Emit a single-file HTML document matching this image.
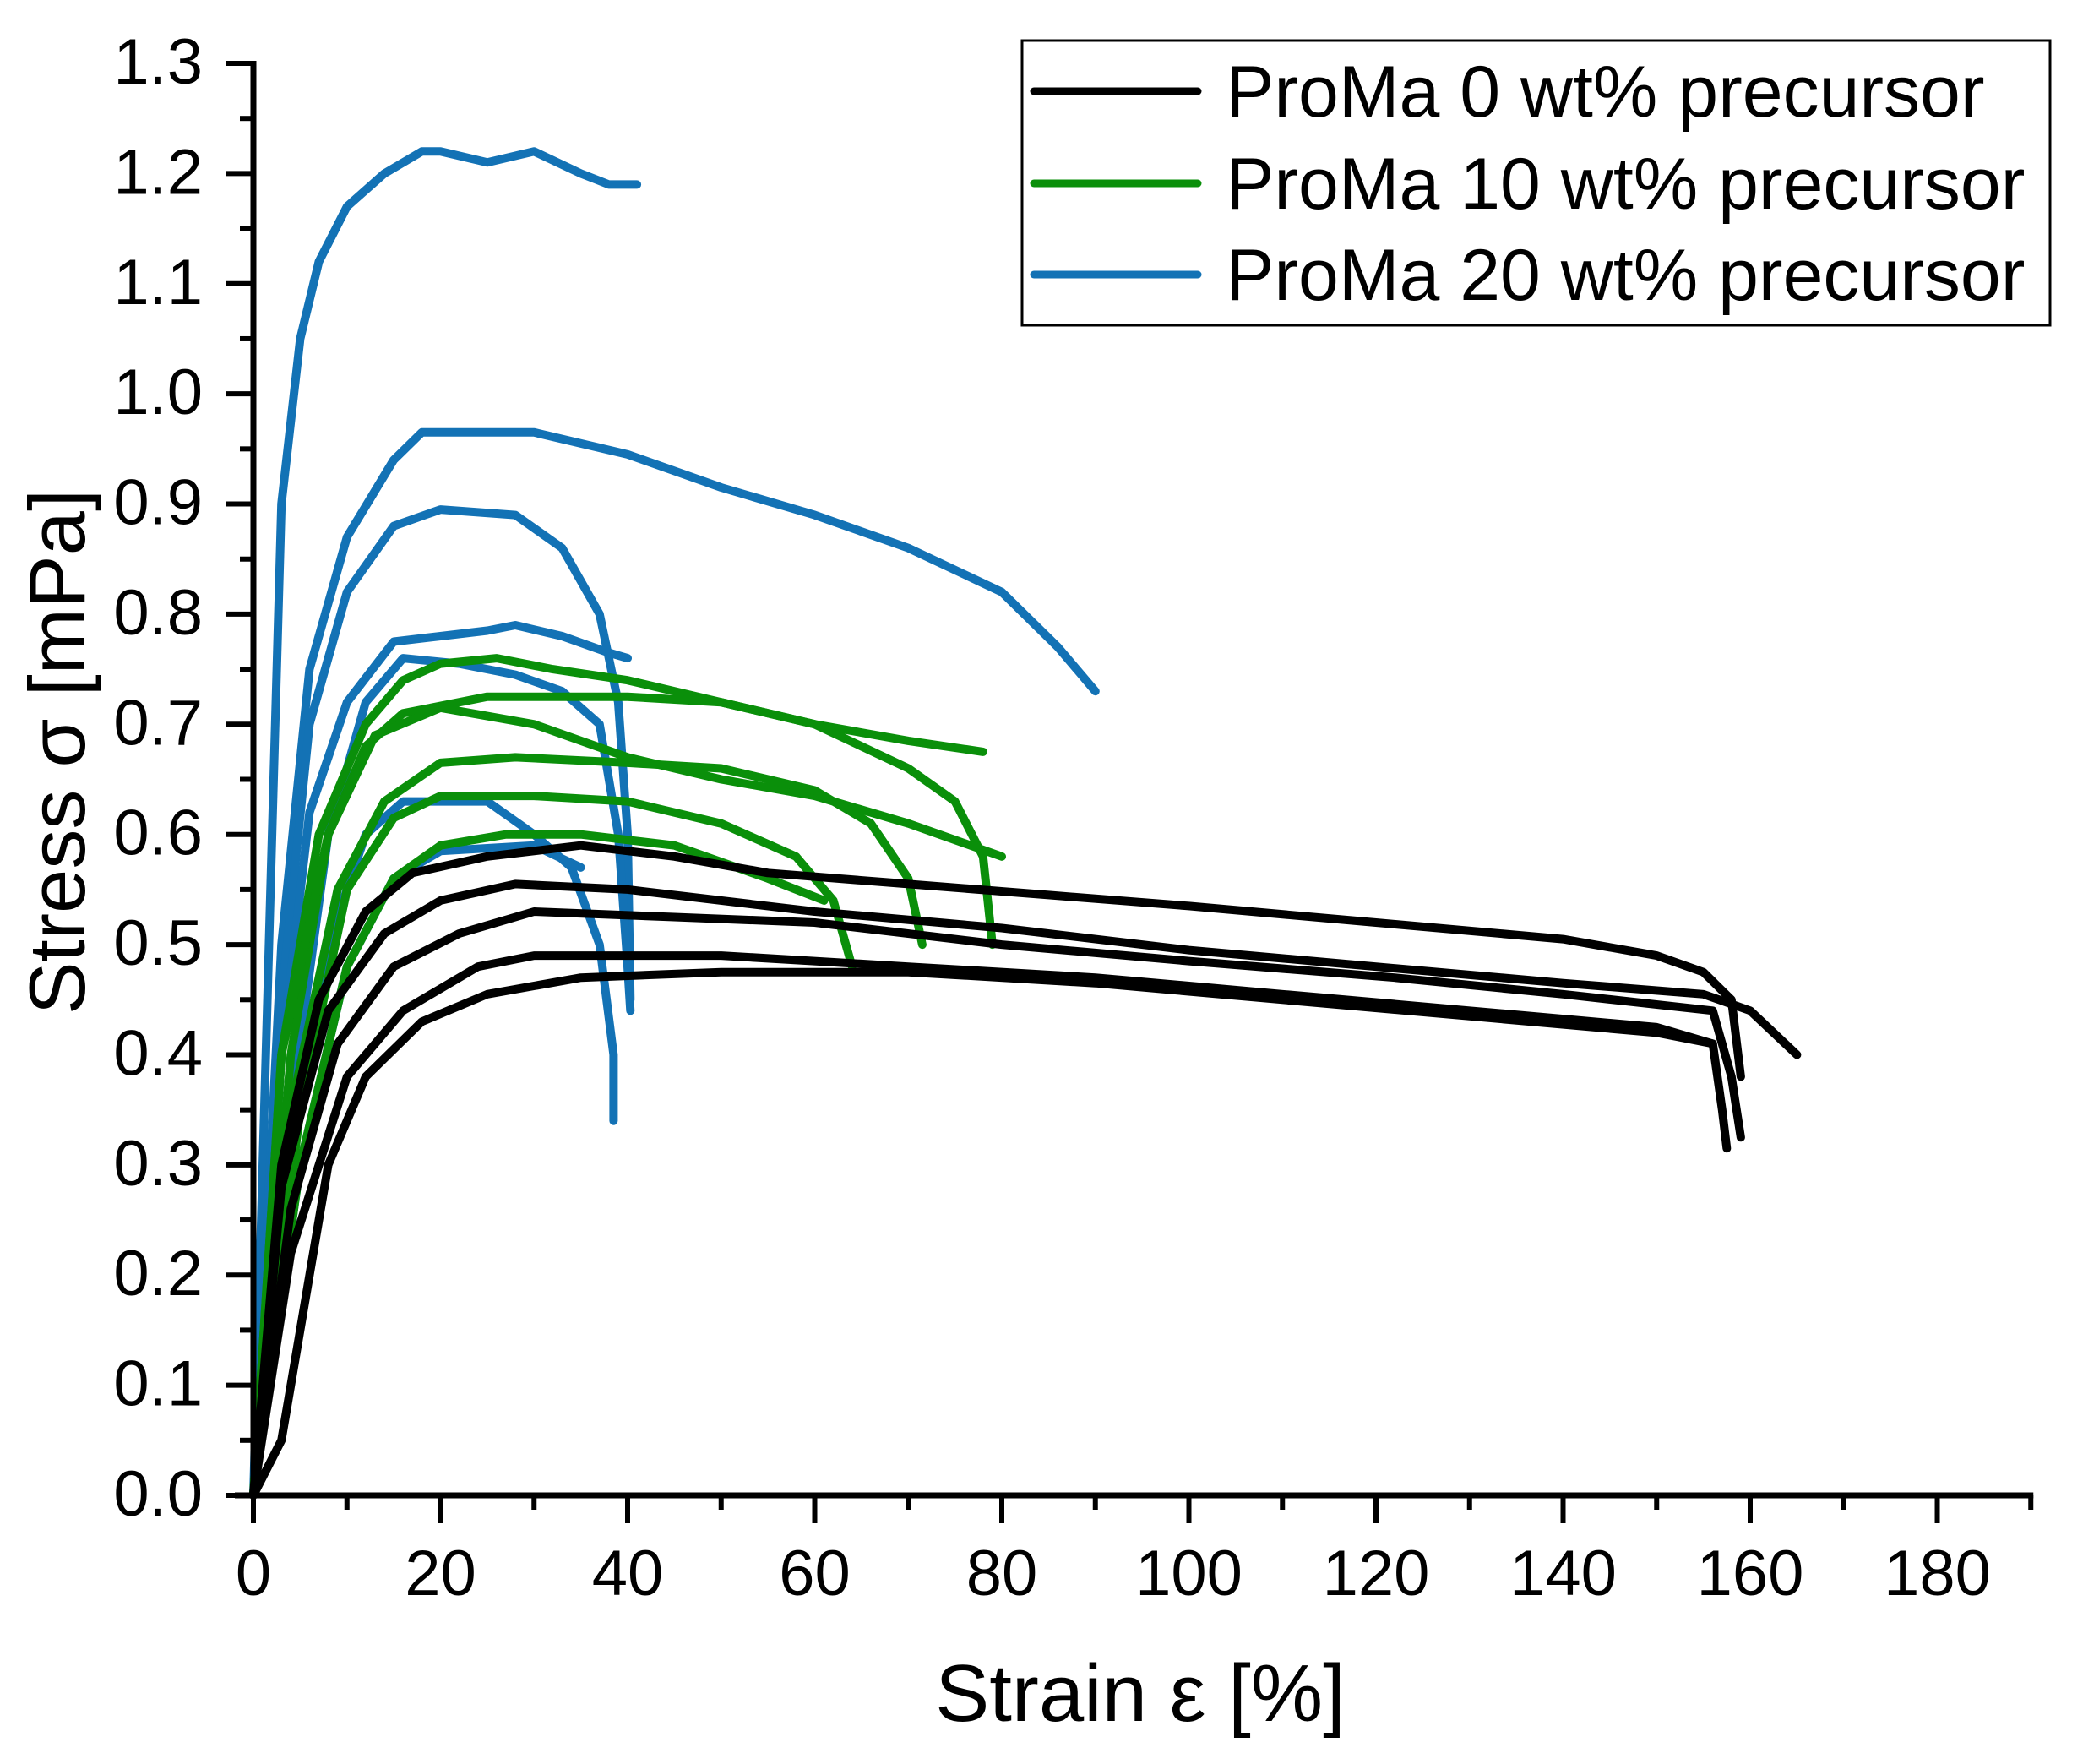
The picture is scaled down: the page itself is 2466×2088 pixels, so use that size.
<!DOCTYPE html>
<html><head><meta charset="utf-8"><style>
html,body{margin:0;padding:0;background:#fff;}
svg{display:block;font-family:"Liberation Sans",Arial,sans-serif;}
</style></head><body>
<svg id="chart" width="2466" height="2088" viewBox="0 0 2466 2088">
<g id="plot"></g>
<g id="axes"></g>
<text x="1350" y="2037" font-size="96" text-anchor="middle">Strain ε [%]</text>
<text transform="translate(100,890) rotate(-90)" font-size="94" text-anchor="middle">Stress σ [mPa]</text>
<g>
<rect x="1210" y="48" width="1217" height="337" fill="#fff" stroke="#000" stroke-width="3"/>
<g><line x1="1224" y1="108" x2="1418" y2="108" stroke="#000" stroke-width="9" stroke-linecap="round"/><text x="1451" y="138" font-size="86">ProMa 0 wt% precursor</text></g>
<g><line x1="1224" y1="217" x2="1418" y2="217" stroke="#0a8f0a" stroke-width="9" stroke-linecap="round"/><text x="1451" y="247" font-size="86">ProMa 10 wt% precursor</text></g>
<g><line x1="1224" y1="325" x2="1418" y2="325" stroke="#1372b5" stroke-width="9" stroke-linecap="round"/><text x="1451" y="355" font-size="86">ProMa 20 wt% precursor</text></g>
</g>
</svg>
<script>
const xTicks=[0,20,40,60,80,100,120,140,160,180];
const yTicks=[0,0.1,0.2,0.3,0.4,0.5,0.6,0.7,0.8,0.9,1.0,1.1,1.2,1.3];
const k1=[[0,0],[3,0.3],[7,0.45],[12,0.53],[17,0.565],[25,0.58],[35,0.59],[45,0.58],[55,0.565],[70,0.555],[85,0.545],[100,0.535],[120,0.52],[140,0.505],[150,0.49],[155,0.475],[158,0.45],[159,0.38]];
const k2=[[0,0],[3,0.28],[8,0.44],[14,0.51],[20,0.54],[28,0.555],[40,0.55],[60,0.53],[80,0.515],[100,0.495],[120,0.48],[140,0.465],[155,0.455],[160,0.44],[165,0.40]];
const k3=[[0,0],[4,0.26],[9,0.41],[15,0.48],[22,0.51],[30,0.53],[45,0.525],[60,0.52],[80,0.5],[100,0.485],[122,0.47],[140,0.455],[156,0.44],[158,0.38],[159,0.325]];
const k4=[[0,0],[4,0.22],[10,0.38],[16,0.44],[24,0.48],[30,0.49],[50,0.49],[70,0.48],[90,0.47],[110,0.455],[130,0.44],[150,0.425],[156,0.41],[157,0.35],[157.5,0.315]];
const k5=[[0,0],[3,0.05],[5,0.15],[8,0.3],[12,0.38],[18,0.43],[25,0.455],[35,0.47],[50,0.475],[70,0.475],[90,0.465],[110,0.45],[130,0.435],[150,0.42],[156,0.41]];
const g1=[[0,0],[3,0.4],[7,0.6],[12,0.7],[16,0.74],[20,0.755],[26,0.76],[32,0.75],[40,0.74],[50,0.72],[60,0.7],[70,0.685],[78,0.675]];
const g2=[[0,0],[4,0.4],[8,0.6],[12,0.68],[16,0.71],[25,0.725],[40,0.725],[50,0.72],[60,0.7],[70,0.66],[75,0.63],[78,0.58],[79,0.5]];
const g3=[[0,0],[3,0.4],[8,0.6],[13,0.69],[20,0.715],[30,0.7],[40,0.67],[50,0.65],[60,0.635],[70,0.61],[80,0.58]];
const g4=[[0,0],[4,0.35],[9,0.55],[14,0.63],[20,0.665],[28,0.67],[40,0.665],[50,0.66],[60,0.64],[66,0.61],[70,0.56],[71.5,0.5]];
const g5=[[0,0],[5,0.35],[10,0.55],[15,0.615],[20,0.635],[30,0.635],[40,0.63],[50,0.61],[58,0.58],[62,0.54],[64,0.48]];
const g6=[[0,0],[5,0.3],[10,0.48],[15,0.56],[20,0.59],[27,0.6],[35,0.6],[45,0.59],[55,0.56],[61,0.54]];
const b1=[[0,0],[2,0.6],[3,0.9],[5,1.05],[7,1.12],[10,1.17],[14,1.2],[18,1.22],[20,1.22],[25,1.21],[30,1.22],[35,1.2],[38,1.19],[41,1.19]];
const b2=[[0,0],[3,0.5],[6,0.75],[10,0.87],[15,0.94],[18,0.965],[25,0.965],[30,0.965],[40,0.945],[50,0.915],[60,0.89],[70,0.86],[80,0.82],[86,0.77],[90,0.73]];
const b3=[[0,0],[3,0.45],[6,0.7],[10,0.82],[15,0.88],[20,0.895],[28,0.89],[33,0.86],[37,0.8],[39,0.72],[40,0.6],[40.3,0.45]];
const b4=[[0,0],[3,0.4],[6,0.62],[10,0.72],[15,0.775],[20,0.78],[25,0.785],[28,0.79],[33,0.78],[38,0.765],[40,0.76]];
const b5=[[0,0],[4,0.35],[8,0.6],[12,0.72],[16,0.76],[22,0.755],[28,0.745],[33,0.73],[37,0.7],[39,0.6],[40,0.48],[40.3,0.44]];
const b6=[[0,0],[4,0.3],[8,0.5],[12,0.6],[16,0.63],[25,0.63],[30,0.6],[34,0.57],[37,0.5],[38.5,0.4],[38.5,0.34]];
const b7=[[0,0],[5,0.3],[10,0.48],[15,0.56],[20,0.585],[30,0.59],[35,0.57]];
const NS="http://www.w3.org/2000/svg";
const X0=300,PER20=221.5,Y0=1770,Ytop=75;
const X1=X0+PER20*9.5;
function xs(v){return X0+v*(PER20/20);}
function ys(v){return Y0-v*((Y0-Ytop)/1.3);}
const plot=document.getElementById('plot');
const series=[
 ['blue-curve-1',b1,'#1372b5'],['blue-curve-2',b2,'#1372b5'],['blue-curve-3',b3,'#1372b5'],['blue-curve-4',b4,'#1372b5'],['blue-curve-5',b5,'#1372b5'],['blue-curve-6',b6,'#1372b5'],['blue-curve-7',b7,'#1372b5'],
 ['green-curve-1',g1,'#0a8f0a'],['green-curve-2',g2,'#0a8f0a'],['green-curve-3',g3,'#0a8f0a'],['green-curve-4',g4,'#0a8f0a'],['green-curve-5',g5,'#0a8f0a'],['green-curve-6',g6,'#0a8f0a'],
 ['black-curve-1',k1,'#000'],['black-curve-2',k2,'#000'],['black-curve-3',k3,'#000'],['black-curve-4',k4,'#000'],['black-curve-5',k5,'#000']];
series.forEach(([n,d,c])=>{
 const p=document.createElementNS(NS,'polyline');
 p.setAttribute('points',d.map(q=>xs(q[0]).toFixed(1)+','+ys(q[1]).toFixed(1)).join(' '));
 p.setAttribute('fill','none');p.setAttribute('stroke',c);p.setAttribute('stroke-width','10');
 p.setAttribute('stroke-linejoin','round');p.setAttribute('stroke-linecap','round');
 
 
 plot.appendChild(p);
});
const axes=document.getElementById('axes');
function ln(x1,y1,x2,y2,w){const l=document.createElementNS(NS,'line');l.setAttribute('x1',x1);l.setAttribute('y1',y1);l.setAttribute('x2',x2);l.setAttribute('y2',y2);l.setAttribute('stroke','#000');l.setAttribute('stroke-width',w);axes.appendChild(l);return l;}
const xa=ln(X0-22,Y0,X1+3,Y0,7);


const ya=ln(X0,Y0+3,X0,Ytop-3,7);


for(let v=0;v<=190;v+=10){ln(xs(v),Y0,xs(v),Y0+(v%20===0?33:17),6);}
for(let i=0;i<=26;i++){const v=i*0.05;ln(X0,ys(v),X0-(i%2===0?32:16),ys(v),6);}
xTicks.forEach(v=>{const t=document.createElementNS(NS,'text');t.setAttribute('x',xs(v));t.setAttribute('y',1888);t.setAttribute('font-size','76');t.setAttribute('text-anchor','middle');t.textContent=v;
 
 
 axes.appendChild(t);});
yTicks.forEach(v=>{const t=document.createElementNS(NS,'text');t.setAttribute('x',240);t.setAttribute('y',ys(v)+24);t.setAttribute('font-size','76');t.setAttribute('text-anchor','end');t.textContent=v.toFixed(1);
 
 
 axes.appendChild(t);});
</script>
</body></html>
